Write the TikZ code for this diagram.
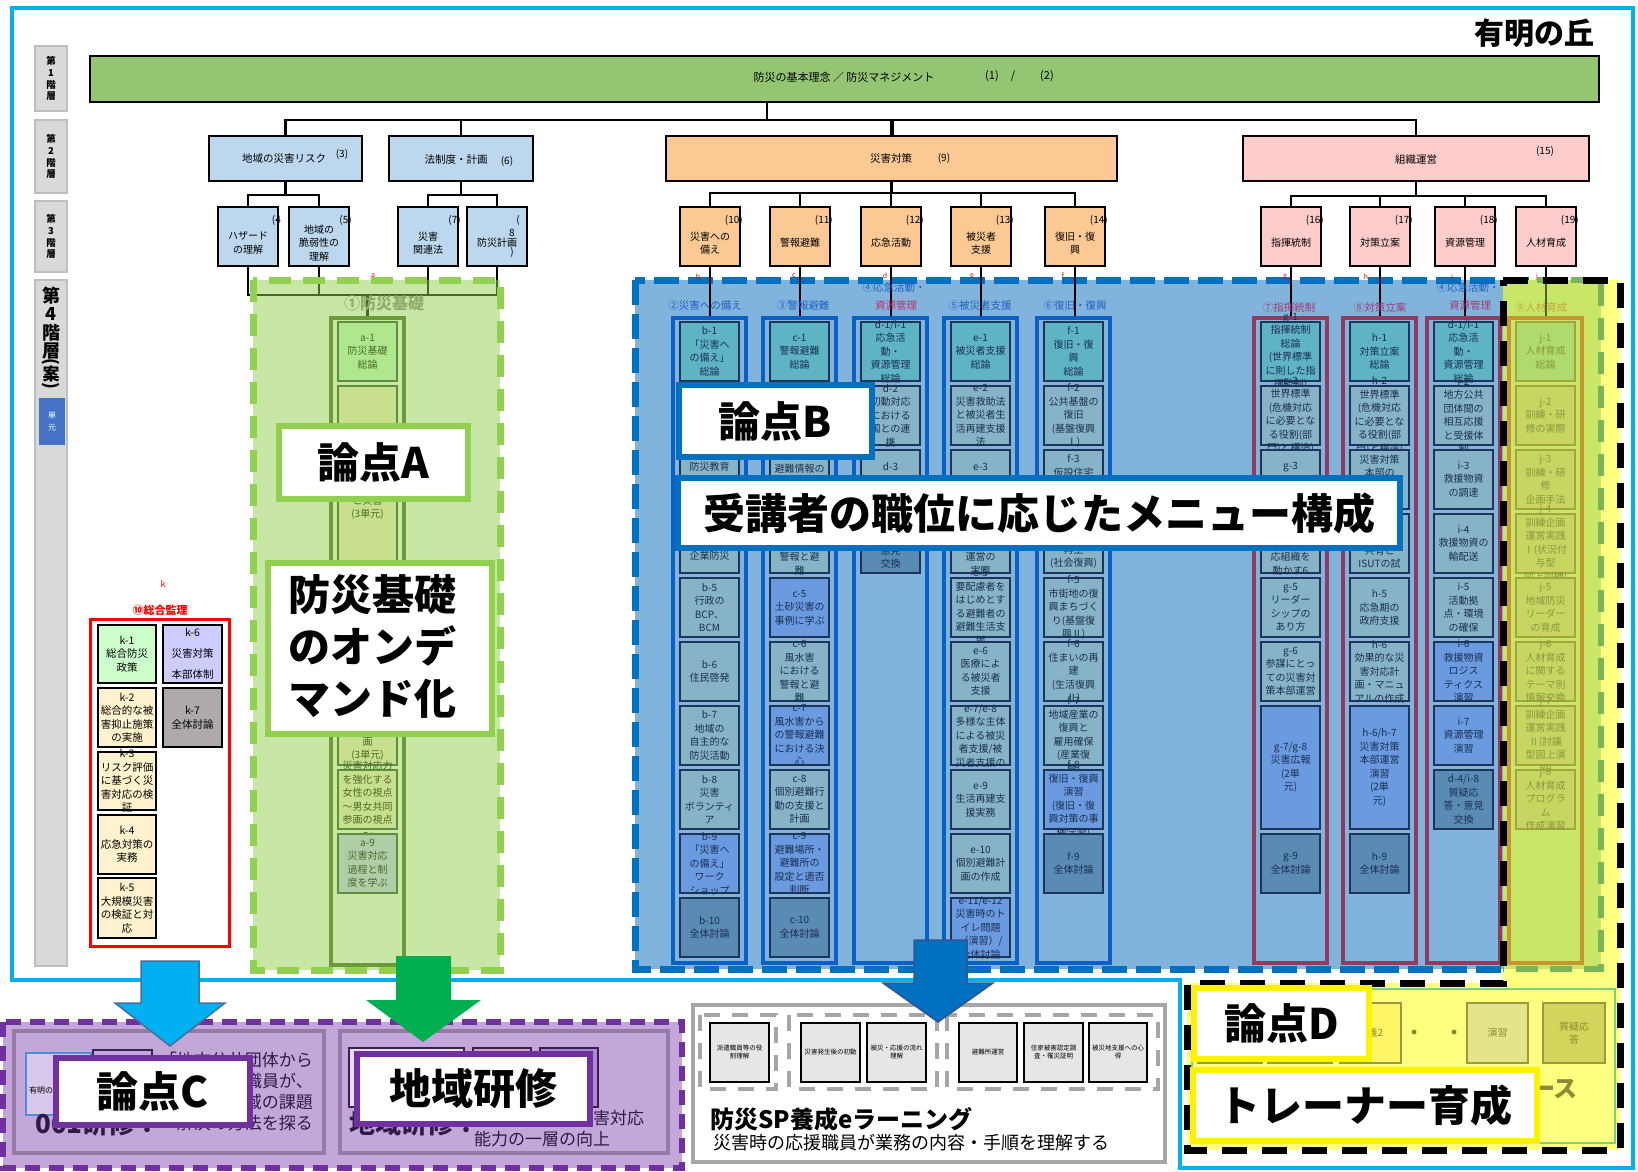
\documentclass[tikz,border=0pt]{standalone}
\usepackage{fontspec}
\setmainfont{Noto Sans CJK JP}
\definecolor{frameC}{HTML}{00B0F0}
\definecolor{greyL}{HTML}{D9D9D9}
\definecolor{greyB}{HTML}{BFBFBF}
\definecolor{uB}{HTML}{4472C4}
\definecolor{rootG}{HTML}{93C572}
\definecolor{lvB}{HTML}{BDD7EE}
\definecolor{lvO}{HTML}{FCC994}
\definecolor{lvP}{HTML}{FFCCCC}
\definecolor{regB}{HTML}{80B4DD}
\definecolor{dashB}{HTML}{0070C0}
\definecolor{colBd}{HTML}{0A5FC8}
\definecolor{itN}{HTML}{87B3C7}
\definecolor{itT}{HTML}{5FB4C4}
\definecolor{itX}{HTML}{6A9BE0}
\definecolor{itD}{HTML}{5A8BB5}
\definecolor{itBd}{HTML}{1E3558}
\definecolor{itTx}{HTML}{1A2E50}
\definecolor{pinkBd}{HTML}{943A5E}
\definecolor{grA}{HTML}{92D050}
\definecolor{aBd}{HTML}{2C4E24}
\definecolor{aCol}{HTML}{426424}
\definecolor{kG}{HTML}{CCFFCC}
\definecolor{kY}{HTML}{FFF2CC}
\definecolor{kL}{HTML}{CCCCFF}
\definecolor{kGr}{HTML}{AEAAAA}
\definecolor{yelD}{HTML}{FFFF80}
\definecolor{jF}{HTML}{C8D560}
\definecolor{jF1}{HTML}{AEDB6C}
\definecolor{jBd}{HTML}{A0A63C}
\definecolor{jTx}{HTML}{8A9640}
\definecolor{jCol}{HTML}{C8962E}
\definecolor{jDash}{HTML}{7AB55C}
\definecolor{hdB}{HTML}{1F5FC0}
\definecolor{hdM}{HTML}{A23A72}
\definecolor{hdR}{HTML}{C0306A}
\definecolor{hdJ}{HTML}{C9A040}
\definecolor{purD}{HTML}{7030A0}
\definecolor{purF}{HTML}{C4A7DA}
\definecolor{purB}{HTML}{957AA6}
\definecolor{purTx}{HTML}{2E1A47}
\definecolor{purK}{HTML}{3D1F4F}
\definecolor{eGrey}{HTML}{A6A6A6}
\definecolor{hGrey}{HTML}{8A8A8A}
\definecolor{eBox}{HTML}{E7E6E6}
\definecolor{arC}{HTML}{00B0F0}
\definecolor{arCB}{HTML}{41719C}
\definecolor{arG}{HTML}{00B050}
\definecolor{arB}{HTML}{0070C0}
\definecolor{arBB}{HTML}{2F5597}
\definecolor{olTx}{HTML}{8C8C30}
\definecolor{tbBd}{HTML}{9A9A40}
\definecolor{trBd}{HTML}{7CD07C}
\newcommand\curtx{itTx}
\newcommand\mybox[8][]{\node[#1,minimum width={#5pt-#3pt},minimum height={#6pt-#4pt}] (#2) at ({(#3+#5)/2},{(#4+#6)/2}) {};\node[#7] (#2t) at (#2.center) {#8};}
\newcommand\itm[6][]{\pgfmathsetmacro\myya{322+(#4-1)*64}\pgfmathsetmacro\myyb{\myya+64*#5-5}\node[it,#1,minimum width=59pt,minimum height={(\myyb-\myya)*1pt}] (#2) at ({#3+29.5},{(\myya+\myyb)/2}) {};\node[itx,text=\curtx] (#2t) at (#2.center) {#6};}
\newcommand\itmt[7][]{\pgfmathsetmacro\myya{322+(#4-1)*64}\pgfmathsetmacro\myyb{\myya+64*#5-5}\node[it,#1,minimum width=59pt,minimum height={(\myyb-\myya)*1pt}] (#2) at ({#3+29.5},{(\myya+\myyb)/2}) {};\node[itx,text=\curtx] (#2t) at ({#3+29.5},#6) {#7};}
\newcommand\lvbox[5][]{\node[lv,#1,minimum width=60pt,minimum height=59pt] (#2) at ({#3+30},236.5) {};\node[tx] (#2t) at ({#3+30},243) {#4};\node[num,anchor=east] (#2n) at ({#3+63},220) {#5};}
\begin{document}
\begin{tikzpicture}[x=1pt,y=-1pt,
 tx/.style={inner sep=0pt,align=center,font=\fontsize{10}{13.5}\selectfont},
 num/.style={inner sep=0pt,font=\fontsize{10}{12}\selectfont},
 conn/.style={draw=black,line width=2.6pt},
 lv/.style={draw=black,line width=2.4pt,inner sep=0pt},
 glab/.style={draw=greyB,line width=1.2pt,fill=greyL,inner sep=0pt},
 gtx/.style={inner sep=0pt,align=center,font=\fontsize{9.5}{11.7}\selectfont\bfseries},
 it/.style={draw=itBd,line width=2.2pt,fill=itN,inner sep=0pt},
 itx/.style={inner sep=0pt,align=center,font=\fontsize{10}{13.5}\selectfont},
 iT/.style={fill=itT}, iX/.style={fill=itX}, iD/.style={fill=itD},
 ai/.style={draw=aBd,fill=kY},
 ji/.style={draw=jBd,fill=jF},
 colbx/.style={draw=#1,line width=4pt,inner sep=0pt},
 kb/.style={draw=black,line width=2.8pt,inner sep=0pt},
 ktx/.style={inner sep=0pt,align=center,font=\fontsize{10.5}{13.5}\selectfont},
 hd/.style={inner sep=0pt,font=\fontsize{10.5}{12}\selectfont},
 lab/.style={draw=#1,line width=6pt,fill=white,inner sep=0pt},
 labtx/.style={inner sep=0pt,font=\fontsize{42}{52}\selectfont\bfseries},
 eb/.style={draw=black,line width=1.8pt,fill=eBox,inner sep=0pt},
 etx/.style={inner sep=0pt,align=center,font=\fontsize{6.5}{8}\selectfont},
 edash/.style={draw=eGrey,line width=4.5pt,dash pattern=on 16pt off 12pt},
 tb/.style={draw=tbBd,line width=1.8pt,inner sep=0pt},
 tbtx/.style={inner sep=0pt,align=center,text=olTx,font=\fontsize{10}{13}\selectfont},
 redl/.style={inner sep=0pt,text=red,font=\fontsize{7}{7}\selectfont},
 g4c/.style={inner sep=0pt,font=\fontsize{17}{17}\selectfont\bfseries},
]
\useasboundingbox (0,0) rectangle (1638,1172);
\fill[white] (0,0) rectangle (1638,1172);
\draw[frameC,line width=4pt] (12,8) -- (1633,8) -- (1633,1168) -- (1180,1168) -- (1180,980) -- (12,980) -- cycle;
\node[inner sep=0pt,font=\fontsize{30}{32}\selectfont\bfseries] (ttl) at (1534,33) {有明の丘};
% level labels
\mybox[glab]{G1}{35}{46}{67}{111}{gtx}{第\\1\\階\\層}
\mybox[glab]{G2}{35}{120}{67}{193}{gtx}{第\\2\\階\\層}
\mybox[glab]{G3}{35}{201}{67}{272}{gtx}{第\\3\\階\\層}
\mybox[glab]{G4}{35}{280}{67}{966}{}{}
\node[inner sep=0pt,align=center,font=\fontsize{18}{18.5}\selectfont\bfseries] (G4a) at (51,323) {第\\4\\階\\層};
\node[g4c,rotate=-90] (G4b1) at (51,362) {(};
\node[g4c] (G4b2) at (51,374) {案};
\node[g4c,rotate=-90] (G4b3) at (51,386) {)};
\mybox[draw=none,fill=uB]{G4u}{39}{398}{65}{445}{inner sep=0pt,align=center,text=white,font=\fontsize{8}{12}\selectfont}{単\\元}
% blue region
\fill[regB] (635,280) rectangle (1600,969);
\draw[dashB,line width=7pt,dash pattern=on 25pt off 9pt] (635,280) rectangle (1600,969);
% yellow D region
\fill[yelD] (1503,280) -- (1620,280) -- (1620,1150) -- (1187,1150) -- (1187,983) -- (1503,983) -- cycle;
% tree
\mybox[lv,fill=rootG]{root}{90}{56}{1599}{102}{}{}
\node[inner sep=0pt,font=\fontsize{11}{13}\selectfont] (rt1) at (844,77) {防災の基本理念 ／ 防災マネジメント};
\node[num,font=\fontsize{11}{13}\selectfont] (rt2) at (992,76) {(1)};
\node[num,font=\fontsize{11}{13}\selectfont] (rt3) at (1013,76) {/};
\node[num,font=\fontsize{11}{13}\selectfont] (rt4) at (1047,76) {(2)};
\mybox[lv,fill=lvB]{L2a}{209}{136}{362}{181}{}{}
\node[inner sep=0pt,font=\fontsize{10.5}{12}\selectfont] (L2at1) at (284,159) {地域の災害リスク};
\node[num] (L2an) at (342,154) {(3)};
\mybox[lv,fill=lvB]{L2b}{389}{136}{533}{181}{}{}
\node[inner sep=0pt,font=\fontsize{10.5}{12}\selectfont] (L2bt1) at (456,160) {法制度・計画};
\node[num] (L2bn) at (507,161) {(6)};
\mybox[lv,fill=lvO]{L2c}{666}{136}{1117}{181}{}{}
\node[inner sep=0pt,font=\fontsize{10.5}{12}\selectfont] (L2ct1) at (891,159) {災害対策};
\node[num] (L2cn) at (944,158) {(9)};
\mybox[lv,fill=lvP]{L2d}{1243}{136}{1589}{181}{}{}
\node[inner sep=0pt,font=\fontsize{10.5}{12}\selectfont] (L2dt1) at (1416,160) {組織運営};
\node[num] (L2dn) at (1545,151) {(15)};
\lvbox[fill=lvB]{L3a}{218}{ハザード\\の理解}{(4}
\lvbox[fill=lvB]{L3b}{289}{地域の\\脆弱性の\\理解}{(5)}
\lvbox[fill=lvB]{L3c}{398}{災害\\関連法}{(7)}
\lvbox[fill=lvB]{L3d}{467}{防災計画}{}
\node[num] (L3dn1) at (518,220) {(};
\node[num] (L3dn2) at (512,233) {8};
\node[num] (L3dn3) at (512,252) {)};
\lvbox[fill=lvO]{L3e}{680}{災害への\\備え}{(10)}
\lvbox[fill=lvO]{L3f}{770}{警報避難}{(11)}
\lvbox[fill=lvO]{L3g}{861}{応急活動}{(12)}
\lvbox[fill=lvO]{L3h}{951}{被災者\\支援}{(13)}
\lvbox[fill=lvO]{L3i}{1045}{復旧・復\\興}{(14)}
\lvbox[fill=lvP]{L3j}{1261}{指揮統制}{(16)}
\lvbox[fill=lvP]{L3k}{1350}{対策立案}{(17)}
\lvbox[fill=lvP]{L3l}{1435}{資源管理}{(18)}
\lvbox[fill=lvP]{L3m}{1516}{人材育成}{(19)}
\coordinate (busR) at (767,120);
\draw[conn] (root.south -| busR) -- (busR);
\draw[conn] (L2a.north) |- (L2d.north |- busR) -- (L2d.north);
\draw[conn] (L2b.north) -- (L2b.north |- busR);
\draw[conn,line width=4pt] (L2c.north) -- (L2c.north |- busR);
\draw[conn] (L2a.south) -- (L2a.south |- 0,195);
\draw[conn] (L3a.north) |- (L3b.north |- 0,195) -- (L3b.north);
\draw[conn] (L2b.south) -- (L2b.south |- 0,195);
\draw[conn] (L3c.north) |- (L3d.north |- 0,195) -- (L3d.north);
\draw[conn,line width=3.5pt] (L2c.south) -- (L2c.south |- 0,193);
\draw[conn] (L3e.north) |- (L3i.north |- 0,193) -- (L3i.north);
\foreach \n in {L3f,L3g,L3h} \draw[conn] (\n.north) -- (\n.north |- 0,193);
\draw[conn] (L2d.south) -- (L2d.south |- 0,196);
\draw[conn] (L3j.north) |- (L3m.north |- 0,196) -- (L3m.north);
\foreach \n in {L3k,L3l} \draw[conn] (\n.north) -- (\n.north |- 0,196);
% columns
\mybox[colbx=aCol]{Ca}{331}{318}{404}{965}{}{}
\mybox[colbx=colBd]{Cb}{673}{318}{746}{963}{}{}
\mybox[colbx=colBd]{Cc}{763}{318}{836}{963}{}{}
\mybox[colbx=colBd]{Cd}{854}{318}{927}{963}{}{}
\mybox[colbx=colBd]{Ce}{944}{318}{1017}{963}{}{}
\mybox[colbx=colBd]{Cf}{1037}{318}{1110}{963}{}{}
\mybox[colbx=pinkBd]{Cg}{1254}{318}{1327}{963}{}{}
\mybox[colbx=pinkBd]{Ch}{1343}{318}{1416}{963}{}{}
\mybox[colbx=pinkBd]{Ci}{1427}{318}{1500}{963}{}{}
\foreach \a/\b in {L3e/Cb,L3f/Cc,L3g/Cd,L3h/Ce,L3i/Cf,L3j/Cg,L3k/Ch,L3l/Ci} \draw[conn] (\a.south) -- (\a.south |- \b.north);
\draw[conn] (L3a.south) |- (L3d.south |- 0,295) -- (L3d.south);
\draw[conn] (L3b.south) -- (L3b.south |- 0,295);
\draw[conn] (L3c.south) -- (L3c.south |- 0,295);
\draw[conn] (Ca.north |- 0,295) -- (Ca.north);
% red small letters
\node[redl] (ra) at (373,276) {a};
\node[redl] (rb) at (698,277) {b};
\node[redl] (rc) at (794,276) {c};
\node[redl] (rd) at (885,276) {d};
\node[redl] (re) at (972,276) {e};
\node[redl] (rf) at (1063,276) {f};
\node[redl] (rg) at (1285,277) {g};
\node[redl] (rh) at (1366,277) {h};
\node[redl] (ri) at (1452,277) {i};
% headers
\node[hd,text=hdB] (Hb) at (705,306) {②災害への備え};
\node[hd,text=hdB] (Hc) at (803,306) {③警報避難};
\node[hd,text=hdB] (Hd1) at (894,288) {④応急活動・};
\node[hd,text=hdR] (Hd2) at (896,305) {資源管理};
\node[hd,text=hdB] (He) at (980,306) {⑤被災者支援};
\node[hd,text=hdB] (Hf) at (1075,306) {⑥復旧・復興};
\node[hd,text=hdM] (Hg) at (1289,308) {⑦指揮統制};
\node[hd,text=hdM] (Hh) at (1380,308) {⑧対策立案};
\node[hd,text=hdB] (Hi1) at (1468,288) {④応急活動・};
\node[hd,text=hdM] (Hi2) at (1470,305) {資源管理};
% column b
\itm[iT]{b1}{680}{1}{1}{b-1\\「災害へ\\の備え」\\総論}
\itm{b2}{680}{2}{1}{}
\itmt{b3}{680}{3}{1}{467}{防災教育}
\itmt{b4}{680}{4}{1}{556}{企業防災}
\itm{b5}{680}{5}{1}{b-5\\行政の\\BCP、\\BCM}
\itm{b6}{680}{6}{1}{b-6\\住民啓発}
\itm{b7}{680}{7}{1}{b-7\\地域の\\自主的な\\防災活動}
\itm{b8}{680}{8}{1}{b-8\\災害\\ボランティ\\ア}
\itm[iX]{b9}{680}{9}{1}{b-9\\「災害へ\\の備え」\\ワーク\\ショップ}
\itm[iD]{b10}{680}{10}{1}{b-10\\全体討論}
% column c
\itm[iT]{c1}{770}{1}{1}{c-1\\警報避難\\総論}
\itm{c2}{770}{2}{1}{}
\itmt{c3}{770}{3}{1}{469}{避難情報の}
\itmt{c4}{770}{4}{1}{563.5}{警報と避\\難}
\itm[iX]{c5}{770}{5}{1}{c-5\\土砂災害の\\事例に学ぶ}
\itm{c6}{770}{6}{1}{c-6\\風水害\\における\\警報と避\\難}
\itm[iX]{c7}{770}{7}{1}{c-7\\風水害から\\の警報避難\\における決\\心}
\itm{c8}{770}{8}{1}{c-8\\個別避難行\\動の支援と\\計画}
\itm[iX]{c9}{770}{9}{1}{c-9\\避難場所・\\避難所の\\設定と適否\\判断}
\itm[iD]{c10}{770}{10}{1}{c-10\\全体討論}
% column d
\itm[iT]{d1}{861}{1}{1}{d-1/i-1\\応急活\\動・\\資源管理\\総論}
\itm{d2}{861}{2}{1}{d-2\\初動対応\\における\\国との連\\携}
\itmt{d3}{861}{3}{1}{467}{d-3}
\itmt[iD]{d4}{861}{4}{1}{557}{意見\\交換}
% column e
\itm[iT]{e1}{951}{1}{1}{e-1\\被災者支援\\総論}
\itm{e2}{951}{2}{1}{e-2\\災害救助法\\と被災者生\\活再建支援\\法}
\itmt{e3}{951}{3}{1}{467}{e-3}
\itmt{e4}{951}{4}{1}{563.5}{運営の\\実際}
\itm{e5}{951}{5}{1}{e-5\\要配慮者を\\はじめとす\\る避難者の\\避難生活支\\援}
\itm{e6}{951}{6}{1}{e-6\\医療によ\\る被災者\\支援}
\itm{e7}{951}{7}{1}{e-7/e-8\\多様な主体\\による被災\\者支援/被\\災者支援の}
\itm{e8}{951}{8}{1}{e-9\\生活再建支\\援実務}
\itm{e9}{951}{9}{1}{e-10\\個別避難計\\画の作成}
\itm[iX]{e10}{951}{10}{1}{e-11/e-12\\災害時のト\\イレ問題\\（演習）/\\全体討論}
% column f
\itm[iT]{f1}{1044}{1}{1}{f-1\\復旧・復\\興\\総論}
\itm{f2}{1044}{2}{1}{f-2\\公共基盤の\\復旧\\(基盤復興\\Ⅰ)}
\itmt{f3}{1044}{3}{1}{466}{f-3\\仮設住宅}
\itmt{f4}{1044}{4}{1}{557}{再生\\(社会復興)}
\itm{f5}{1044}{5}{1}{f-5\\市街地の復\\興まちづく\\り(基盤復\\興Ⅱ)}
\itm{f6}{1044}{6}{1}{f-6\\住まいの再\\建\\(生活復興\\Ⅱ)}
\itm{f7}{1044}{7}{1}{f-7\\地域産業の\\復興と\\雇用確保\\(産業復\\興)}
\itm[iX]{f8}{1044}{8}{1}{f-8\\復旧・復興\\演習\\(復旧・復\\興対策の事\\例学習)}
\itm[iD]{f9}{1044}{9}{1}{f-9\\全体討論}
% column g
\itm[iT]{g1}{1261}{1}{1}{g-1\\指揮統制\\総論\\(世界標準\\に則した指\\揮統制)}
\itm{g2}{1261}{2}{1}{g-2\\世界標準\\(危機対応\\に必要とな\\る役割(部\\門)と構造)}
\itmt{g3}{1261}{3}{1}{467}{g-3}
\itmt{g4}{1261}{4}{1}{563.5}{応組織を\\動かす6}
\itm{g5}{1261}{5}{1}{g-5\\リーダー\\シップの\\あり方}
\itm{g6}{1261}{6}{1}{g-6\\参謀にとっ\\ての災害対\\策本部運営}
\itm[iX]{g7}{1261}{7}{2}{g-7/g-8\\災害広報\\(2単\\元)}
\itm[iD]{g9}{1261}{9}{1}{g-9\\全体討論}
% column h
\itm[iT]{h1}{1350}{1}{1}{h-1\\対策立案\\総論}
\itm{h2}{1350}{2}{1}{h-2\\世界標準\\(危機対応\\に必要とな\\る役割(部\\門)と構造)}
\itmt{h3}{1350}{3}{1}{466}{災害対策\\本部の}
\itmt{h4}{1350}{4}{1}{557}{共有と\\ISUTの試}
\itm{h5}{1350}{5}{1}{h-5\\応急期の\\政府支援}
\itm{h6}{1350}{6}{1}{h-6\\効果的な災\\害対応計\\画・マニュ\\アルの作成}
\itm[iX]{h7}{1350}{7}{2}{h-6/h-7\\災害対策\\本部運営\\演習\\(2単\\元)}
\itm[iD]{h9}{1350}{9}{1}{h-9\\全体討論}
% column i
\itm[iT]{i1}{1434}{1}{1}{d-1/i-1\\応急活\\動・\\資源管理\\総論}
\itm{i2}{1434}{2}{1}{i-2\\地方公共\\団体間の\\相互応援\\と受援体\\制}
\itm{i3}{1434}{3}{1}{i-3\\救援物資\\の調達}
\itm{i4}{1434}{4}{1}{i-4\\救援物資の\\輸配送}
\itm{i5}{1434}{5}{1}{i-5\\活動拠\\点・環境\\の確保}
\itm[iX]{i6}{1434}{6}{1}{i-6\\救援物資\\ロジス\\ティクス\\演習}
\itm[iX]{i7}{1434}{7}{1}{i-7\\資源管理\\演習}
\itm[iD]{i8}{1434}{8}{1}{d-4/i-8\\質疑応\\答・意見\\交換}
% column a (under green overlay)
\renewcommand\curtx{black}
\node[inner sep=0pt,text=hGrey,font=\fontsize{16}{18}\selectfont\bfseries] (Ha) at (384,303) {①防災基礎};
\itm[ai,fill=kG]{a1}{338}{1}{1}{a-1\\防災基礎\\総論}
\itmt[ai]{a2}{338}{2}{3}{508}{と実習\\(3単元)}
\itm[ai]{a5}{338}{5}{1}{}
\itm[ai]{a6}{338}{6}{1}{}
\itmt[ai]{a7}{338}{7}{1}{749}{画\\(3単元)}
\itm[ai]{a8}{338}{8}{1}{災害対応力\\を強化する\\女性の視点\\～男女共同\\参画の視点\\～}
\itm[ai,fill=kL]{a9}{338}{9}{1}{a-9\\災害対応\\過程と制\\度を学ぶ}
\fill[grA,opacity=.5] (253,280) rectangle (500,970);
\draw[grA,line width=7pt,dash pattern=on 22pt off 12pt] (253,280) rectangle (500,970);
% column j (yellow-green region)
\node[redl] (rj) at (1537,277) {j};
\draw[conn] (L3m.south) -- (L3m.south |- 0,318);
\fill[grA,opacity=.5] (1503,280) rectangle (1601,969);
\mybox[colbx=jCol]{Cj}{1509}{318}{1582}{963}{}{}
\renewcommand\curtx{jTx}
\node[hd,text=hdJ] (Hj) at (1541,308) {⑨人材育成};
\itm[ji,fill=jF1]{j1}{1516}{1}{1}{j-1\\人材育成\\総論}
\itm[ji]{j2}{1516}{2}{1}{j-2\\訓練・研\\修の実際}
\itm[ji]{j3}{1516}{3}{1}{j-3\\訓練・研\\修\\企画手法}
\itm[ji]{j4}{1516}{4}{1}{j-4\\訓練企画\\運営実践\\Ⅰ(状況付\\与型\\図上訓練)}
\itm[ji]{j5}{1516}{5}{1}{j-5\\地域防災\\リーダー\\の育成}
\itm[ji]{j6}{1516}{6}{1}{j-6\\人材育成\\に関する\\テーマ別\\情報交換}
\itm[ji]{j7}{1516}{7}{1}{j-7\\訓練企画\\運営実践\\Ⅱ(討議\\型図上演\\習)}
\itm[ji]{j8}{1516}{8}{1}{j-8\\人材育成\\プログラ\\ム\\作成演習}
\draw[jDash,line width=6pt,dash pattern=on 22pt off 12pt] (1503,280) -- (1601,280) -- (1601,969) -- (1503,969);
% trainer course
\mybox[draw=trBd,line width=2.5pt,fill=yelD]{TC}{1192}{989}{1615}{1143}{}{}
\mybox[tb,fill=yelD]{TC1}{1198}{1003}{1262}{1063}{}{}
\mybox[tb,fill=yelD]{TC2}{1268}{1003}{1332}{1063}{}{}
\mybox[tb,fill={rgb,255:red,255;green,245;blue,102}]{TC3}{1340}{1003}{1401}{1063}{tbtx}{講義2}
\fill[olTx] (1414,1032) circle (2.5);
\fill[olTx] (1454,1032) circle (2.5);
\mybox[tb,fill={rgb,255:red,228;green,228;blue,138}]{TC4}{1467}{1003}{1528}{1063}{tbtx}{演習}
\mybox[tb,fill={rgb,255:red,212;green,212;blue,92}]{TC5}{1543}{1003}{1605}{1063}{tbtx}{質疑応\\答}
\node[anchor=east,inner sep=0pt,text=olTx,font=\fontsize{24}{26}\selectfont\bfseries] (TCt) at (1578,1088) {トレーナー育成コース};
\draw[black,line width=7pt,dash pattern=on 25pt off 15pt] (1503,280) -- (1620,280) -- (1620,1150) -- (1187,1150) -- (1187,983) -- (1503,983) -- cycle;
% k box
\node[inner sep=0pt,text=red,font=\fontsize{9}{10}\selectfont] (kk) at (163,584) {k};
\node[inner sep=0pt,text=red,font=\fontsize{11}{12}\selectfont\bfseries] (kt) at (160,610) {⑩総合監理};
\mybox[draw=red,line width=3pt]{kbox}{90}{619}{229}{946}{}{}
\mybox[kb,fill=kG]{k1}{98}{625}{156}{683}{ktx}{k-1\\総合防災\\政策}
\mybox[kb,fill=kL]{k6}{163}{625}{222}{683}{ktx,font=\fontsize{10.5}{21}\selectfont}{k-6\\災害対策\\本部体制}
\mybox[kb,fill=kY]{k2}{98}{688}{156}{747}{ktx}{k-2\\総合的な被\\害抑止施策\\の実施}
\mybox[kb,fill=kGr]{k7}{163}{688}{222}{747}{ktx}{k-7\\全体討論}
\mybox[kb,fill=kY]{k3}{98}{752}{156}{810}{ktx}{k-3\\リスク評価\\に基づく災\\害対応の検\\証}
\mybox[kb,fill=kY]{k4}{98}{815}{156}{874}{ktx}{k-4\\応急対策の\\実務}
\mybox[kb,fill=kY]{k5}{98}{878}{156}{938}{ktx}{k-5\\大規模災害\\の検証と対\\応}
% bottom left purple
\fill[purF] (3,1022) rectangle (682,1168);
\draw[purD,line width=6pt,dash pattern=on 15pt off 9pt] (3,1022) rectangle (682,1168);
\mybox[draw=purB,line width=4pt,fill=purF]{P1}{14}{1031}{324}{1153}{}{}
\mybox[draw=purB,line width=4pt,fill=purF]{P2}{340}{1031}{668}{1153}{}{}
\mybox[draw={rgb,255:red,74;green,143;blue,220},line width=2.5pt,fill={rgb,255:red,216;green,200;blue,236}]{P1a}{26}{1053}{91}{1115}{}{}
\node[anchor=west,inner sep=0pt,font=\fontsize{8}{9}\selectfont] (P1at) at (29,1090) {有明の丘};
\mybox[draw=purK,line width=2.5pt,fill=purF]{P1b}{93}{1050}{152}{1105}{}{}
\node[anchor=east,inner sep=0pt,text=purTx,font=\fontsize{17}{19}\selectfont] (P1l1) at (313,1060) {「地方公共団体から};
\node[anchor=east,inner sep=0pt,text=purTx,font=\fontsize{17}{19}\selectfont] (P1l2) at (313,1081) {派遣された職員が、};
\node[anchor=east,inner sep=0pt,text=purTx,font=\fontsize{17}{19}\selectfont] (P1l3) at (313,1102) {被災地域の課題};
\node[anchor=east,inner sep=0pt,text=purTx,font=\fontsize{17}{19}\selectfont] (P1l4) at (313,1123) {解決の方法を探る};
\node[anchor=west,inner sep=0pt,text=purTx,font=\fontsize{26}{28}\selectfont\bfseries] (P1big) at (35,1124) {001研修：};
\mybox[draw=purK,line width=2.5pt,fill={rgb,255:red,232;green,221;blue,240}]{P2a}{349}{1048}{464}{1107}{}{}
\mybox[draw=purK,line width=2.5pt,fill={rgb,255:red,201;green,169;blue,195}]{P2b}{473}{1048}{531}{1107}{}{}
\mybox[draw=purK,line width=2.5pt,fill={rgb,255:red,167;green,139;blue,216}]{P2c}{540}{1048}{598}{1107}{}{}
\node[anchor=west,inner sep=0pt,text=purTx,font=\fontsize{26}{28}\selectfont\bfseries] (P2big) at (349,1124) {地域研修：};
\node[anchor=west,inner sep=0pt,text=purTx,font=\fontsize{17}{19}\selectfont] (P2l1) at (474,1118) {地域における災害対応};
\node[anchor=west,inner sep=0pt,text=purTx,font=\fontsize{17}{19}\selectfont] (P2l2) at (474,1139) {能力の一層の向上};
% e-learning
\mybox[draw=eGrey,line width=4pt,fill=white]{EL}{693}{1005}{1165}{1162}{}{}
\draw[edash] (700,1015) rectangle (776,1089);
\draw[edash] (789,1015) rectangle (937,1089);
\draw[edash] (947,1015) rectangle (1158,1089);
\mybox[eb]{E1}{710}{1023}{769}{1082}{etx}{派遣職員等の役\\割理解}
\mybox[eb]{E2}{801}{1023}{860}{1082}{etx}{災害発生後の初動}
\mybox[eb]{E3}{867}{1023}{926}{1082}{etx}{被災・応援の流れ\\理解}
\mybox[eb]{E4}{959}{1023}{1017}{1082}{etx}{避難所運営}
\mybox[eb]{E5}{1024}{1023}{1083}{1082}{etx}{住家被害認定調\\査・罹災証明}
\mybox[eb]{E6}{1089}{1023}{1147}{1082}{etx}{被災地支援への心\\得}
\node[anchor=west,inner sep=0pt,font=\fontsize{24}{26}\selectfont\bfseries] (ELt) at (710,1119) {防災SP養成eラーニング};
\node[anchor=west,inner sep=0pt,font=\fontsize{18}{20}\selectfont] (ELs) at (713,1143) {災害時の応援職員が業務の内容・手順を理解する};
% arrows
\filldraw[fill=arC,draw=arCB,line width=1.5pt] (141,961) -- (199,961) -- (199,1003) -- (225,1003) -- (170,1046) -- (115,1003) -- (141,1003) -- cycle;
\fill[arG] (396,956) -- (451,956) -- (451,1000) -- (481,1000) -- (423,1042) -- (366,1000) -- (396,1000) -- cycle;
\filldraw[fill=arB,draw=arBB,line width=1.5pt] (914,940) -- (967,940) -- (967,983) -- (993,983) -- (938,1022) -- (883,983) -- (914,983) -- cycle;
% labels
\mybox[lab=grA]{LA}{279}{426}{468}{499}{labtx}{論点A}
\mybox[lab=grA]{LK}{268}{563}{492}{734}{}{}
\node[anchor=west,inner sep=0pt,align=left,font=\fontsize{42}{52}\selectfont\bfseries] (LKt) at (288,646) {防災基礎\\のオンデ\\マンド化};
\mybox[lab=dashB]{LB}{679}{385}{872}{457}{labtx}{論点B}
\mybox[lab=dashB]{LM}{678}{478}{1400}{548}{labtx}{受講者の職位に応じたメニュー構成}
\mybox[lab=purD]{LC}{56}{1058}{250}{1125}{labtx}{論点C}
\mybox[lab=purD]{LR}{357}{1054}{590}{1124}{labtx}{地域研修}
\mybox[lab=yellow]{LD}{1194}{988}{1369}{1059}{labtx}{論点D}
\mybox[lab=yellow]{LT}{1193}{1070}{1537}{1141}{labtx}{トレーナー育成}
\end{tikzpicture}
\end{document}
